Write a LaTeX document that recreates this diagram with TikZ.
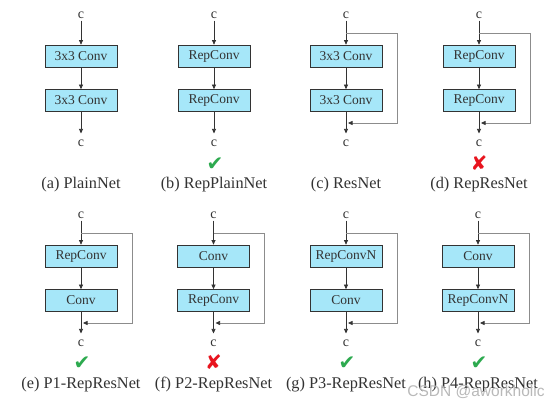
\documentclass[tikz,border=0pt]{standalone}
\usepackage{fontspec}
\setmainfont{Liberation Serif}
\newfontfamily\symfont{DejaVu Sans}
\newfontfamily\wmfont{Liberation Sans}
\usetikzlibrary{arrows.meta}
\definecolor{boxfill}{HTML}{A6E7F9}
\definecolor{ink}{HTML}{333333}
\definecolor{skipgray}{HTML}{8C8C8C}
\definecolor{okgreen}{HTML}{2DAA4F}
\definecolor{badred}{HTML}{E8141E}
\tikzset{
  convbox/.style={draw=ink, fill=boxfill, line width=0.7pt, minimum width=72pt,
    minimum height=22pt, inner sep=0pt, font=\fontsize{13.5}{14}\selectfont, text=ink},
  ctext/.style={font=\fontsize{14}{14}\selectfont, text=ink, inner sep=2pt},
  captext/.style={font=\fontsize{16.3}{17}\selectfont, text=ink, inner sep=0pt},
  flow/.style={draw=ink, line width=0.7pt, -{Triangle[length=4.5pt,width=4pt]}},
  skipline/.style={draw=skipgray, line width=0.7pt, -{Triangle[length=4.5pt,width=4pt,color=ink]}},
  marksym/.style={font=\symfont\fontsize{20}{20}\selectfont, inner sep=0pt,
    text height=14pt, text depth=0pt, anchor=base},
  wm/.style={font=\wmfont\fontsize{15.5}{16}\selectfont, text=gray!55, inner sep=0pt}
}
\newcommand\mkcol[6]{%
  \begin{scope}[shift={(0,#3)}]
    \node[ctext] (#1t) at (#2,15) {c};
    \node[convbox] (#1a) at (#2,56) {#4};
    \node[convbox] (#1b) at (#2,100.5) {#5};
    \node[ctext] (#1o) at (#2,143) {c};
    \node[captext] (#1c) at (#2,184.5) {#6};
    \draw[flow] (#1t) -- (#1a);
    \draw[flow] (#1a) -- (#1b);
    \draw[flow, shorten >=4pt] (#1b) -- (#1o);
  \end{scope}}
\newcommand\mkskip[3]{%
  \begin{scope}[shift={(0,#3)}]
    \coordinate (#1p) at (#2,33);
    \coordinate (#1q) at ({#2+2},123);
    \coordinate (#1r) at ({#2+51},33);
    \draw[skipline] (#1p) -- (#1r) |- (#1q);
  \end{scope}}
\begin{document}
\begin{tikzpicture}[x=1pt,y=-1pt]
  \useasboundingbox (0,0) rectangle (560,406);
  \fill[white] (0,0) rectangle (560,406);
  % row 1
  \mkcol{a}{81}{0}{3x3 Conv}{3x3 Conv}{(a) PlainNet}
  \mkcol{b}{214}{0}{RepConv}{RepConv}{(b) RepPlainNet}
  \mkcol{c}{346}{0}{3x3 Conv}{3x3 Conv}{(c) ResNet}
  \mkcol{d}{479}{0}{RepConv}{RepConv}{(d) RepResNet}
  \mkskip{c}{346}{0}
  \mkskip{d}{479}{0}
  \node[marksym, text=okgreen] (bm) at (215,171) {✔};
  \node[marksym, text=badred] (dm) at (479,171) {✘};
  % row 2
  \mkcol{e}{81}{200}{RepConv}{Conv}{(e) P1-RepResNet}
  \mkcol{f}{213.5}{200}{Conv}{RepConv}{(f) P2-RepResNet}
  \mkcol{g}{346}{200}{RepConvN}{Conv}{(g) P3-RepResNet}
  \mkcol{h}{478}{200}{Conv}{RepConvN}{(h) P4-RepResNet}
  \mkskip{e}{81}{200}
  \mkskip{f}{213.5}{200}
  \mkskip{g}{346}{200}
  \mkskip{h}{478}{200}
  \node[marksym, text=okgreen] (em) at (82,370) {✔};
  \node[marksym, text=badred] (fm) at (213.5,370) {✘};
  \node[marksym, text=okgreen] (gm) at (347,370) {✔};
  \node[marksym, text=okgreen] (hm) at (479,370) {✔};
  \node[wm] (wmark) at (476,392) {CSDN @aworkholic};
\end{tikzpicture}
\end{document}
